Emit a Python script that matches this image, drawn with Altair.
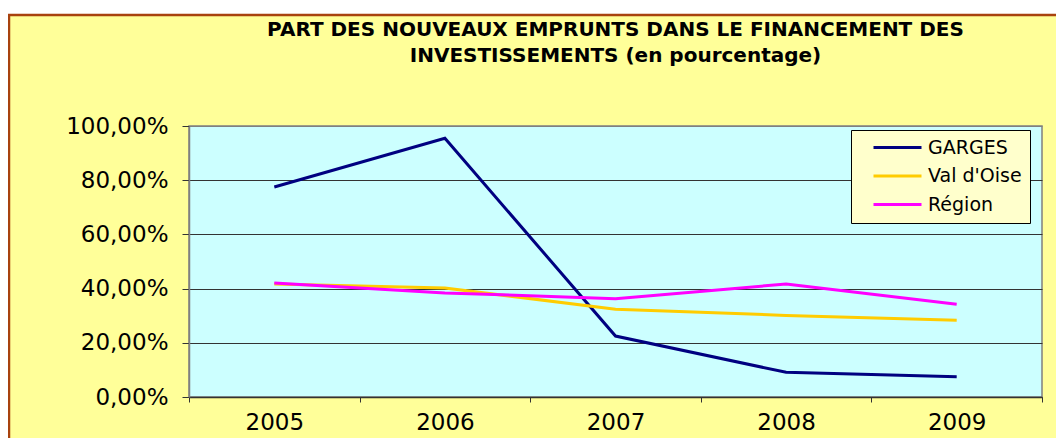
import altair as alt
import pandas as pd

years = ["2005", "2006", "2007", "2008", "2009"]
series_names = ["GARGES", "Val d'Oise", "Région"]
garges = [0.775, 0.955, 0.225, 0.091, 0.075]
val_oise = [0.417, 0.402, 0.324, 0.301, 0.283]
region = [0.421, 0.384, 0.363, 0.417, 0.342]
colors = ["#000080", "#FFCC00", "#FF00FF"]
y_ticks = [0, 0.2, 0.4, 0.6, 0.8, 1.0]

rows = []
for name, vals in zip(series_names, [garges, val_oise, region]):
    for yr, v in zip(years, vals):
        rows.append({"Année": yr, "Série": name, "Valeur": v})
df = pd.DataFrame(rows)

W, H = 853, 271
FONT = "DejaVu Sans"

lines = alt.Chart(df).mark_line(strokeWidth=3).encode(
    x=alt.X("Année:N", sort=years, title=None,
            scale=alt.Scale(type="band", paddingInner=0, paddingOuter=0),
            axis=alt.Axis(labelAngle=0, tickBand="extent", labelFontSize=23,
                          labelFont=FONT, labelColor="black", labelPadding=9,
                          tickSize=5, tickColor="#333333", domainColor="#333333",
                          domainWidth=1.5, grid=False)),
    y=alt.Y("Valeur:Q", title=None,
            scale=alt.Scale(domain=[0, 1], nice=False),
            axis=alt.Axis(values=y_ticks,
                          labelExpr="replace(format(datum.value, '.2%'), '.', ',')",
                          labelFontSize=23, labelFont=FONT, labelColor="black",
                          labelPadding=14, tickSize=7, tickColor="#333333",
                          domainColor="#808080", domainWidth=1.5,
                          grid=True,
                          gridColor=alt.condition(alt.datum.value == 1,
                                                  alt.value("#808080"),
                                                  alt.value("#333333")),
                          gridWidth=1)),
    color=alt.Color("Série:N", sort=series_names,
                    scale=alt.Scale(domain=series_names, range=colors),
                    legend=alt.Legend(title=None, orient="none",
                                      legendX=662, legendY=4,
                                      symbolType="stroke", symbolSize=2304,
                                      symbolStrokeWidth=3, clipHeight=19,
                                      symbolOffset=13,
                                      labelFont=FONT, labelFontSize=19,
                                      labelColor="black", labelOffset=5,
                                      fillColor="#FFFFCC", strokeColor="black",
                                      padding=8, rowPadding=8.5,
                                      offset=0)),
)

deco_df = pd.DataFrame({"k": [0]})
top_strip = alt.Chart(deco_df).mark_rect(fill="white", strokeWidth=0).encode(
    x=alt.value(-181), x2=alt.value(W + 20),
    y=alt.value(-118), y2=alt.value(-112))
frame = alt.Chart(deco_df).mark_rect(fillOpacity=0, stroke="#A8420E",
                                     strokeWidth=2.5).encode(
    x=alt.value(-180), x2=alt.value(W + 60),
    y=alt.value(-111), y2=alt.value(H + 80))

chart = alt.layer(top_strip, frame, lines).properties(
    width=W, height=H,
    background="#FFFF99",
    padding={"left": 181, "top": 118, "right": 14, "bottom": 41},
    autosize=alt.AutoSizeParams(type="none"),
    title=alt.Title(
        ["PART DES NOUVEAUX EMPRUNTS DANS LE FINANCEMENT DES",
         "INVESTISSEMENTS (en pourcentage)"],
        font=FONT, fontSize=20, fontWeight="bold", color="black",
        anchor="middle", lineHeight=26, offset=-58),
).configure_view(fill="#CCFFFF", stroke="#808080", strokeWidth=1.5)

chart.save("out.html", embed_options={"renderer": "svg", "actions": False})
